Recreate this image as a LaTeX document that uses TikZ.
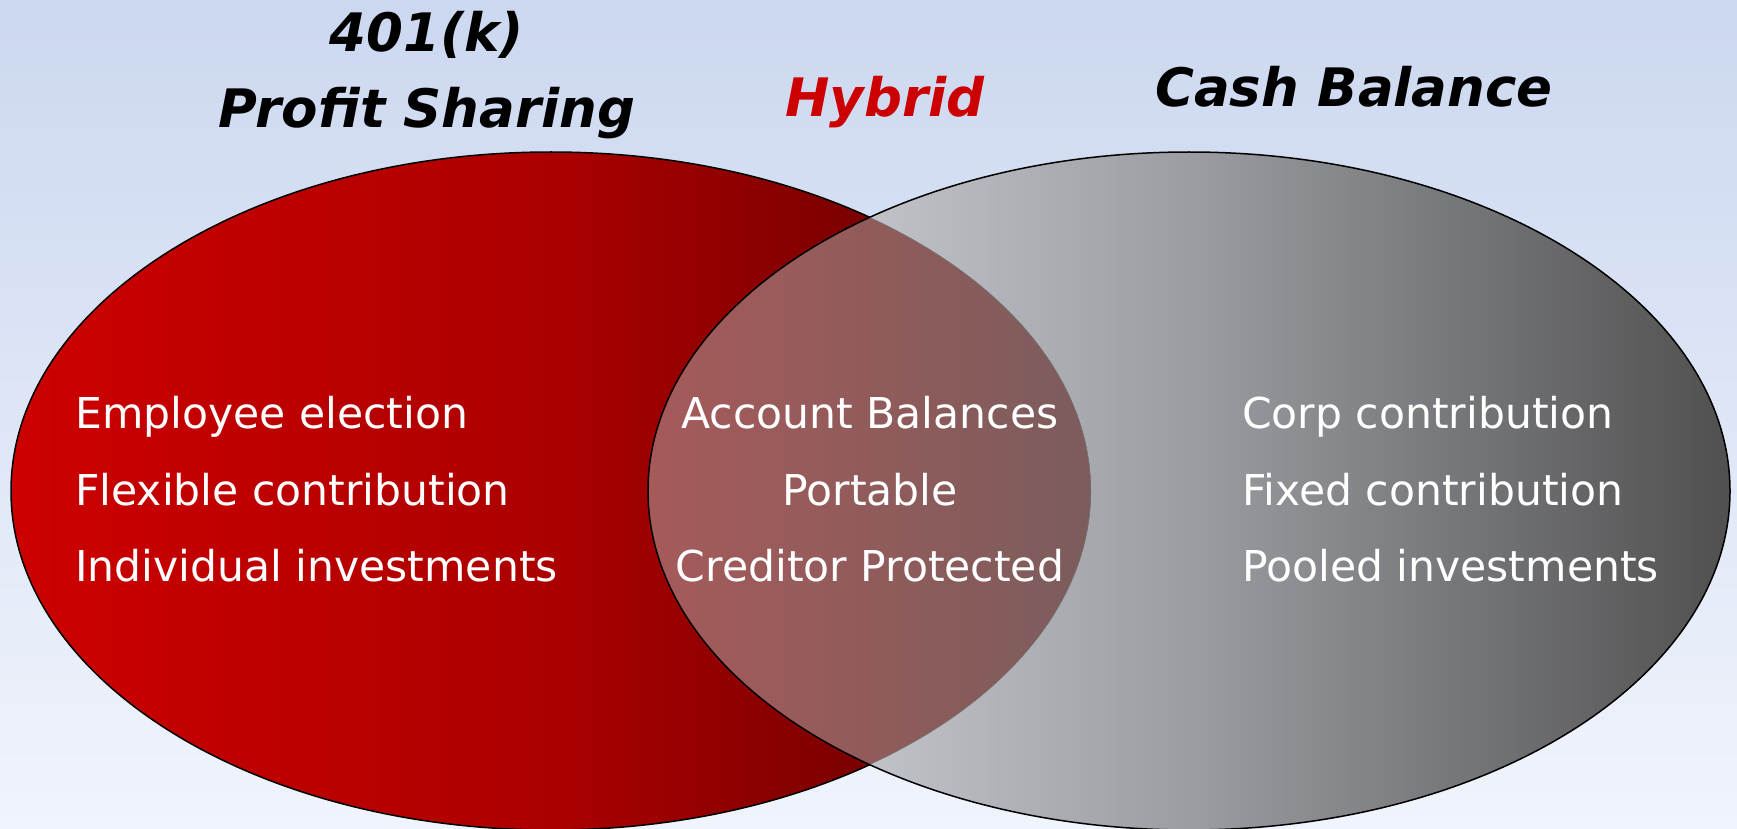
\documentclass[tikz,border=0pt]{standalone}
\usepackage{fontspec}
\setmainfont{DejaVu Sans}
\usepackage{tikz}
\definecolor{skytop}{RGB}{204,216,240}
\definecolor{skybot}{RGB}{240,244,252}
\definecolor{psred}{RGB}{205,0,0}
\definecolor{psmid}{RGB}{172,0,0}
\definecolor{psdark}{RGB}{88,0,0}
\definecolor{cblight}{RGB}{218,220,226}
\definecolor{cbmid}{RGB}{155,157,162}
\definecolor{cbdark}{RGB}{80,80,80}
\definecolor{hyleft}{RGB}{166,90,90}
\definecolor{hyright}{RGB}{124,92,92}
\definecolor{hybridred}{RGB}{204,0,0}

\begin{document}
\begin{tikzpicture}[
  x=1pt, y=-1pt,
  ps oval/.style={insert path={(551,491) ellipse [x radius=540pt, y radius=339pt]}},
  cb oval/.style={insert path={(1189,491) ellipse [x radius=541pt, y radius=339pt]}},
  heading/.style={font=\bfseries\itshape\fontsize{53}{60}\selectfont, anchor=base, inner sep=0pt},
  item/.style={font=\fontsize{42.5}{50}\selectfont, text=white, inner sep=0pt},
  rim/.style={draw=black, line width=1.5pt}
]
\useasboundingbox (0,0) rectangle (1737,829);
\shade[top color=skytop, bottom color=skybot] (0,0) rectangle (1737,829);

% the two plans
\shadedraw[rim, left color=psred, right color=psdark, middle color=psmid, ps oval];
\shade[left color=cblight, right color=cbdark, middle color=cbmid, cb oval];
\begin{scope}
  \path[clip, ps oval];
  \path[clip, cb oval];
  \shade[left color=hyleft, right color=hyright] (648,152) rectangle (1091,830);
  \draw[black!55, line width=1.2pt, ps oval];
\end{scope}
\draw[rim, cb oval];

% headings
\node[heading] (k401) at (427,52) {401(k)};
\node[heading] (profit) at (427,128) {Profit Sharing};
\node[heading, text=hybridred] (hybrid) at (885,117) {Hybrid};
\node[heading] (cash) at (1354,107) {Cash Balance};

% features
\foreach \i/\yy/\txt in {1/428/Employee election,2/505/Flexible contribution,3/581/Individual investments}
  \node[item, anchor=base west] (ps-\i) at (75,\yy) {\txt};
\foreach \i/\yy/\txt in {1/428/Account Balances,2/505/Portable,3/581/Creditor Protected}
  \node[item, anchor=base] (hy-\i) at (870,\yy) {\txt};
\foreach \i/\yy/\txt in {1/428/Corp contribution,2/505/Fixed contribution,3/581/Pooled investments}
  \node[item, anchor=base west] (cb-\i) at (1242,\yy) {\txt};
\end{tikzpicture}
\end{document}
